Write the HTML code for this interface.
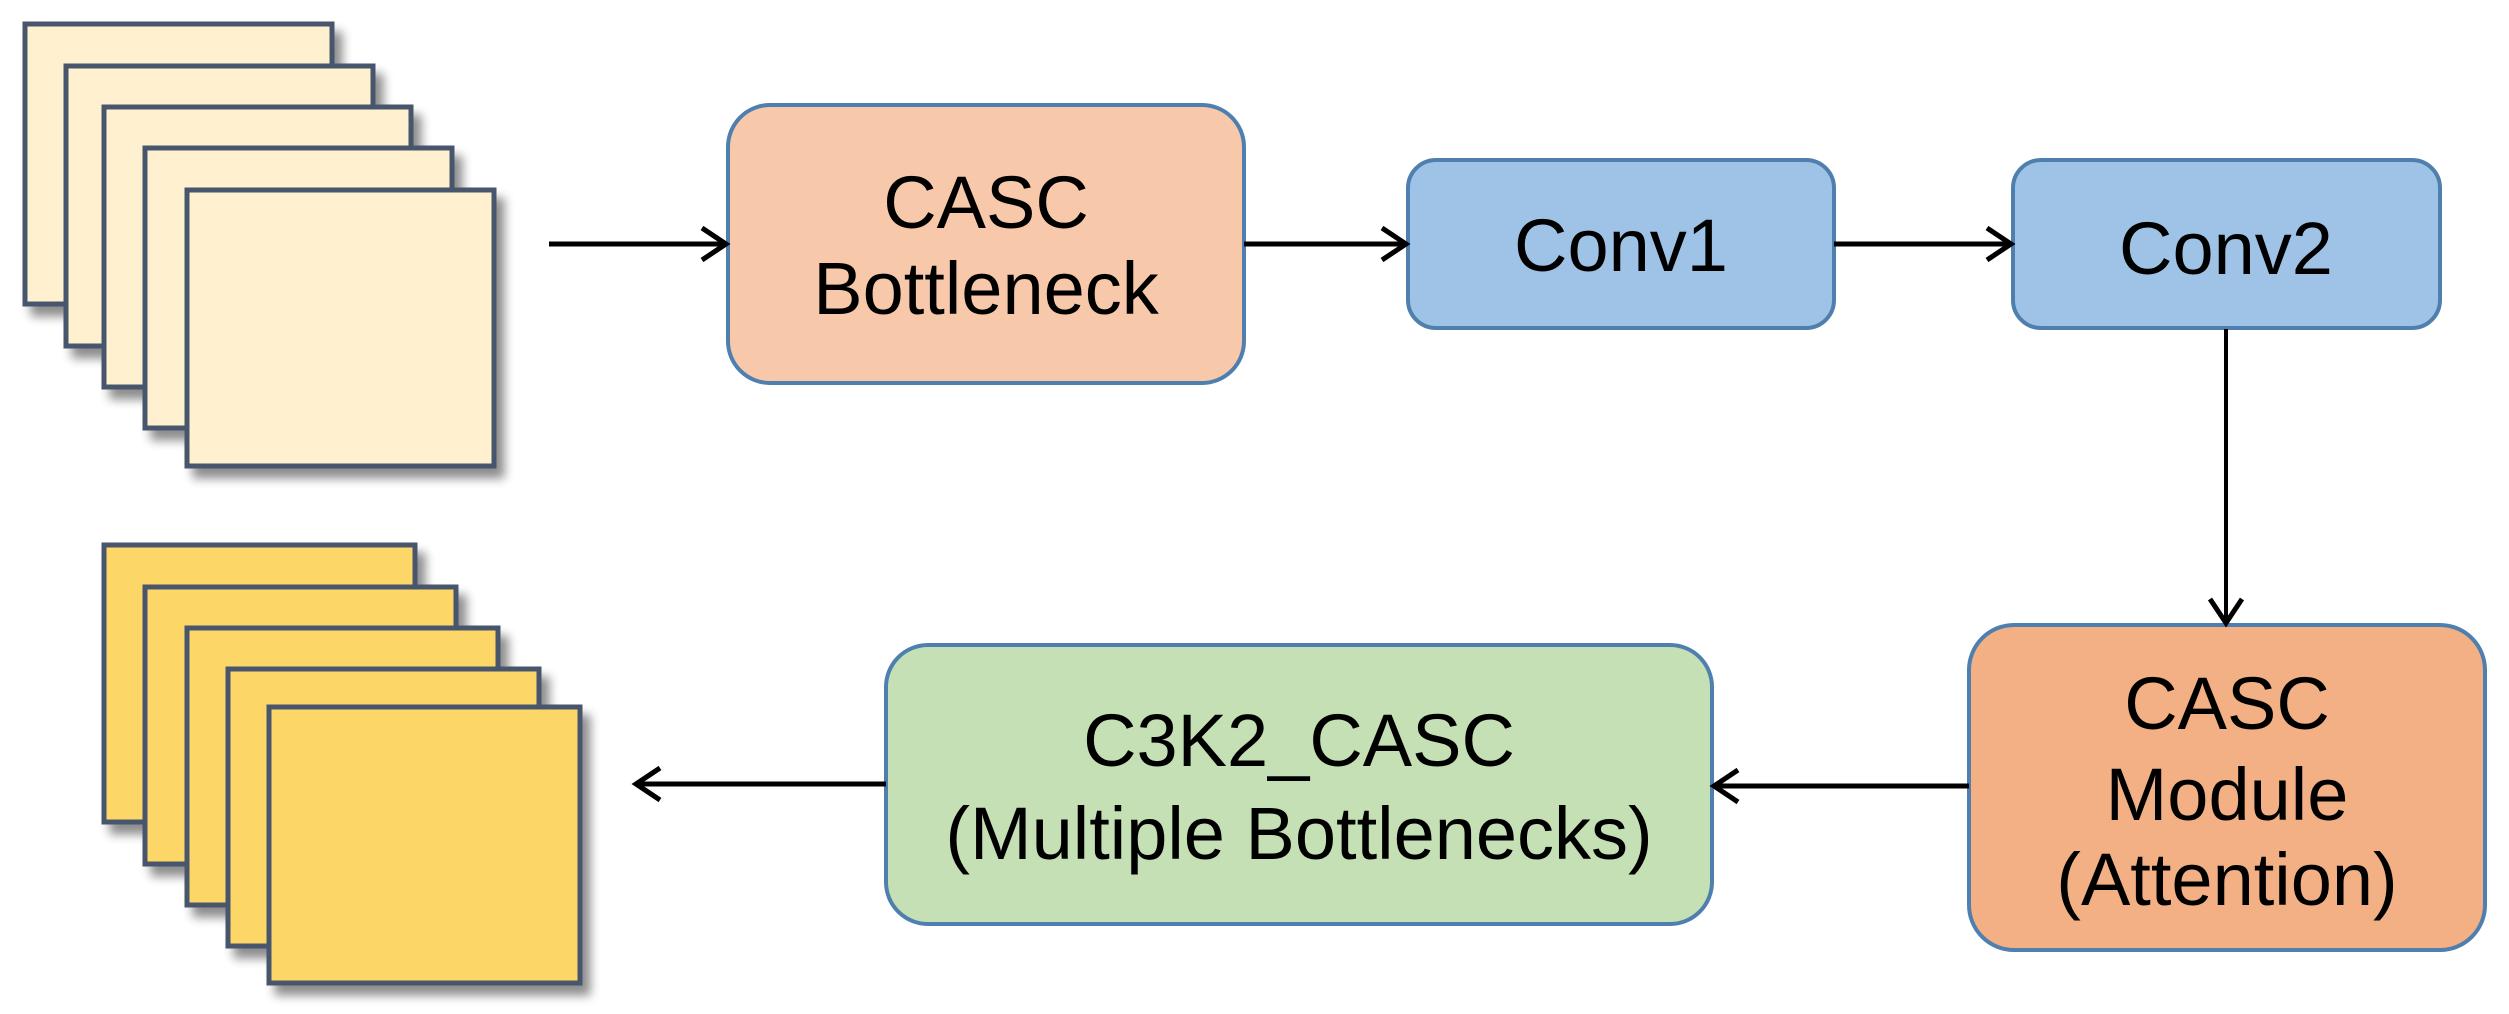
<!DOCTYPE html>
<html><head><meta charset="utf-8"><style>
html,body{margin:0;padding:0;background:#fff;}
svg{display:block;}
text{font-family:"Liberation Sans",sans-serif;font-size:74px;fill:#000;text-anchor:middle;}
</style></head><body>
<svg width="2509" height="1014" viewBox="0 0 2509 1014" xmlns="http://www.w3.org/2000/svg">
<defs>
<filter id="sh" x="-10%" y="-10%" width="130%" height="130%">
<feGaussianBlur in="SourceAlpha" stdDeviation="5"/>
<feOffset dx="8" dy="10"/>
<feComponentTransfer><feFuncA type="linear" slope="0.45"/></feComponentTransfer>
<feMerge><feMergeNode/><feMergeNode in="SourceGraphic"/></feMerge>
</filter>
</defs>
<g stroke="#46566d" stroke-width="5" fill="#fff1cf" filter="url(#sh)">
<rect x="25" y="24" width="307" height="280"/>
<rect x="66" y="66" width="307" height="280"/>
<rect x="104" y="107" width="307" height="280"/>
<rect x="145" y="148" width="307" height="280"/>
<rect x="187" y="190" width="307" height="276"/>
</g>
<g stroke="#46566d" stroke-width="5" fill="#fcd767" filter="url(#sh)">
<rect x="104" y="545" width="311" height="277"/>
<rect x="145" y="587" width="311" height="277"/>
<rect x="187" y="628" width="311" height="277"/>
<rect x="228" y="669" width="311" height="277"/>
<rect x="269" y="707" width="311" height="276"/>
</g>
<g stroke="#4f7fae" stroke-width="4">
<rect x="728" y="105" width="516" height="278" rx="42" fill="#f7c9aa"/>
<rect x="1408" y="160" width="426" height="168" rx="28" fill="#9fc3e6"/>
<rect x="2013" y="160" width="427" height="168" rx="28" fill="#9fc3e6"/>
<rect x="1969" y="625" width="516" height="325" rx="45" fill="#f2b084"/>
<rect x="886" y="645" width="826" height="279" rx="42" fill="#c5e0b4"/>
</g>
<g stroke="#000" stroke-width="5" fill="none">
<line x1="549" y1="244" x2="726" y2="244"/><polyline points="702,228 726,244 702,260"/>
<line x1="1244" y1="244" x2="1406" y2="244"/><polyline points="1382,228 1406,244 1382,260"/>
<line x1="1834" y1="244" x2="2011" y2="244"/><polyline points="1987,228 2011,244 1987,260"/>
<line x1="2226" y1="329" x2="2226" y2="623" stroke-width="4"/><polyline points="2210,599 2226,623 2242,599"/>
<line x1="1969" y1="786" x2="1714" y2="786"/><polyline points="1738,770 1714,786 1738,802"/>
<line x1="886" y1="784" x2="636" y2="784"/><polyline points="660,768 636,784 660,800"/>
</g>
<text x="986" y="228">CASC</text>
<text x="986" y="314">Bottleneck</text>
<text x="1621" y="271">Conv1</text>
<text x="2226" y="274">Conv2</text>
<text x="2227" y="729">CASC</text>
<text x="2227" y="820">Module</text>
<text x="2227" y="905">(Attention)</text>
<text x="1299" y="766">C3K2_CASC</text>
<text x="1299" y="859">(Multiple Bottlenecks)</text>
</svg>
</body></html>
